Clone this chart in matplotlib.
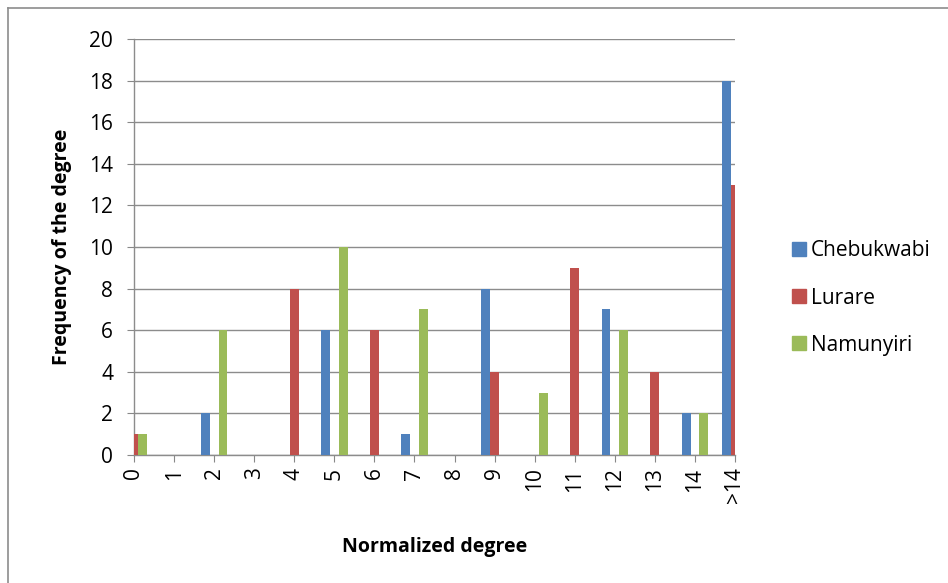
import matplotlib
matplotlib.use("Agg")
import matplotlib.pyplot as plt
from matplotlib.lines import Line2D
import numpy as np

plt.rcParams['font.family'] = ['Open Sans', 'DejaVu Sans']

categories = ["0", "1", "2", "3", "4", "5", "6", "7", "8", "9", "10", "11", "12", "13", "14", ">14"]
series_names = ["Chebukwabi", "Lurare", "Namunyiri"]
chebukwabi = [0, 0, 2, 0, 0, 6, 0, 1, 0, 8, 0, 0, 7, 0, 2, 18]
lurare = [1, 0, 0, 0, 8, 0, 6, 0, 0, 4, 0, 9, 0, 4, 0, 13]
namunyiri = [1, 0, 6, 0, 0, 10, 0, 7, 0, 0, 3, 0, 6, 0, 2, 0]
colors = ["#4F81BD", "#C0504D", "#9BBB59"]

fig = plt.figure(figsize=(9.48, 5.83), dpi=100)
ax = fig.add_axes([134 / 948, 1 - 455 / 583, 601 / 948, 416 / 583])

x = np.arange(len(categories))
bw = 0.22
for i, (vals, c, name) in enumerate(zip([chebukwabi, lurare, namunyiri], colors, series_names)):
    ax.bar(x + (i - 1) * bw, vals, width=bw, color=c, label=name, zorder=3)

ax.set_xlim(0, len(categories) - 1)
ax.set_ylim(0, 20)
ax.set_yticks(range(0, 21, 2))
ax.set_xticks(x)
ax.set_xticklabels(categories, rotation=90, fontsize=15)
ax.tick_params(axis='y', labelsize=15, length=5, color='#888888', pad=10)
ax.tick_params(axis='x', length=5, color='#888888', pad=4)
ax.grid(axis='y', color='#8c8c8c', linewidth=1, zorder=0)
for s in ['top', 'right']:
    ax.spines[s].set_visible(False)
for s in ['left', 'bottom']:
    ax.spines[s].set_color('#8c8c8c')
    ax.spines[s].set_linewidth(1)

ax.set_ylabel("Frequency of the degree", fontsize=14, fontweight='bold', labelpad=12)
ax.set_xlabel("Normalized degree", fontsize=14, fontweight='bold', labelpad=24)

handles = [Line2D([0], [0], marker='s', linestyle='none', markersize=10,
                  markerfacecolor=c, markeredgecolor=c) for c in colors]
fig.legend(handles, series_names, loc='center left', bbox_to_anchor=(770 / 948, 1 - 298 / 583),
           frameon=False, fontsize=15, handletextpad=0.05, labelspacing=1.25, handlelength=1.0)

# thin outer frame along top and left edges
fig.add_artist(Line2D([8 / 948, 8 / 948], [0, 1 - 8 / 583], transform=fig.transFigure,
                      color='#8c8c8c', linewidth=1.2))
fig.add_artist(Line2D([8 / 948, 1], [1 - 8 / 583, 1 - 8 / 583], transform=fig.transFigure,
                      color='#8c8c8c', linewidth=1.2))

fig.savefig("out.png", dpi=100)
